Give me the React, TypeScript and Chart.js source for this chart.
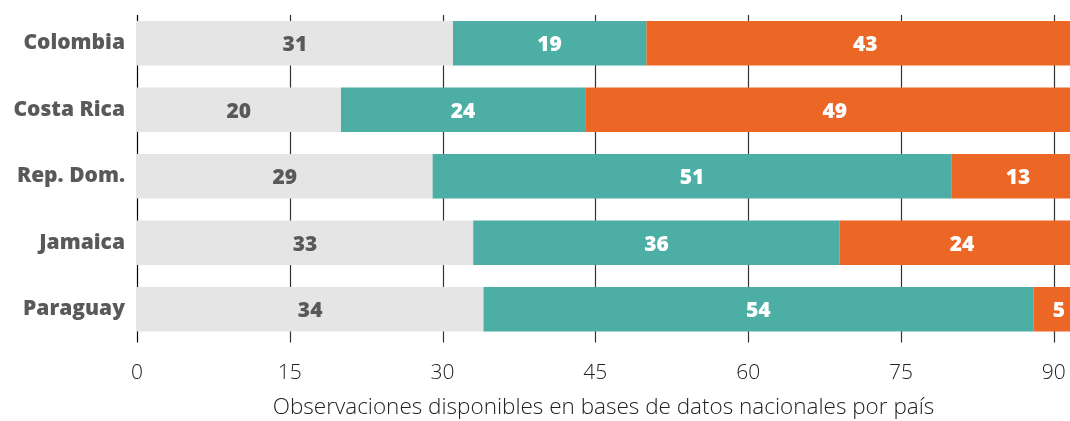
import React, { useEffect, useRef } from "react";
import { Chart, registerables } from "chart.js";

Chart.register(...registerables);

const categories = ["Colombia", "Costa Rica", "Rep. Dom.", "Jamaica", "Paraguay"];
const greyValues = [31, 20, 29, 33, 34];
const tealValues = [19, 24, 51, 36, 54];
const orangeValues = [43, 49, 13, 24, 5];
const xTicks = [0, 15, 30, 45, 60, 75, 90];
const axisTitle = "Observaciones disponibles en bases de datos nacionales por país";

const GREY = "#e5e5e5";
const TEAL = "#4caea5";
const ORANGE = "#ec6625";
const TEXT = "#58595b";

const gridPlugin = {
  id: "customGrid",
  beforeDatasetsDraw(chart: any) {
    const { ctx, chartArea, scales } = chart;
    const x = scales.x;
    ctx.save();
    xTicks.forEach((t) => {
      const px = Math.round(x.getPixelForValue(t)) + 0.5;
      ctx.beginPath();
      ctx.strokeStyle = t === 0 ? "#000" : "#333";
      ctx.lineWidth = 1.2;
      ctx.moveTo(px, chartArea.top + 5);
      ctx.lineTo(px, chartArea.bottom);
      ctx.stroke();
    });
    ctx.restore();
  },
};

const labelPlugin = {
  id: "segLabels",
  afterDatasetsDraw(chart: any) {
    const { ctx } = chart;
    ctx.save();
    ctx.font = "800 21px 'Open Sans'";
    ctx.textAlign = "center";
    ctx.textBaseline = "middle";
    chart.data.datasets.forEach((ds: any, di: number) => {
      const meta = chart.getDatasetMeta(di);
      meta.data.forEach((bar: any, i: number) => {
        const v = ds.data[i];
        const cx = (bar.x + bar.base) / 2;
        ctx.fillStyle = di === 0 ? TEXT : "#ffffff";
        ctx.fillText(String(v), cx, bar.y + 2);
      });
    });
    ctx.restore();
  },
};

export default function App() {
  const ref = useRef<HTMLCanvasElement | null>(null);
  useEffect(() => {
    if (!ref.current) return;
    const chart = new Chart(ref.current, {
      type: "bar",
      data: {
        labels: categories,
        datasets: [
          { data: greyValues, backgroundColor: GREY },
          { data: tealValues, backgroundColor: TEAL },
          { data: orangeValues, backgroundColor: ORANGE },
        ],
      },
      options: {
        indexAxis: "y",
        animation: false,
        responsive: false,
        maintainAspectRatio: false,
        layout: { padding: { top: 10, right: 0, left: 0, bottom: 0 } },
        datasets: { bar: { categoryPercentage: 0.67, barPercentage: 1 } },
        plugins: { legend: { display: false }, tooltip: { enabled: false } },
        scales: {
          x: {
            stacked: true,
            min: 0,
            max: 91.6,
            grid: { display: false },
            border: { display: false },
            afterFit: (s: any) => {
              s.height = 78.5;
              s.paddingLeft = 0;
              s.paddingRight = 0;
            },
            afterBuildTicks: (s: any) => {
              s.ticks = xTicks.map((v) => ({ value: v }));
            },
            ticks: {
              font: { family: "Open Sans", size: 21, weight: 300 },
              color: "#222",
              padding: 10,
              maxRotation: 0,
            },
            title: {
              display: true,
              text: axisTitle,
              font: { family: "Open Sans", size: 22.5, weight: 300 },
              color: "#222",
              padding: { top: 4, bottom: 0 },
            },
          },
          y: {
            stacked: true,
            grid: { display: false },
            border: { display: false },
            afterFit: (s: any) => {
              s.width = 137;
              s.paddingTop = 0;
              s.paddingBottom = 0;
            },
            ticks: {
              font: { family: "Open Sans", size: 21, weight: 800 },
              color: TEXT,
              padding: 4,
            },
          },
        },
      },
      plugins: [gridPlugin, labelPlugin],
    });
    return () => chart.destroy();
  }, []);
  return (
    <div style={{ position: "absolute", left: 0, top: 0, width: 1070, height: 421 }}>
      <canvas ref={ref} width={1070} height={421} style={{ display: "block" }} />
    </div>
  );
}
